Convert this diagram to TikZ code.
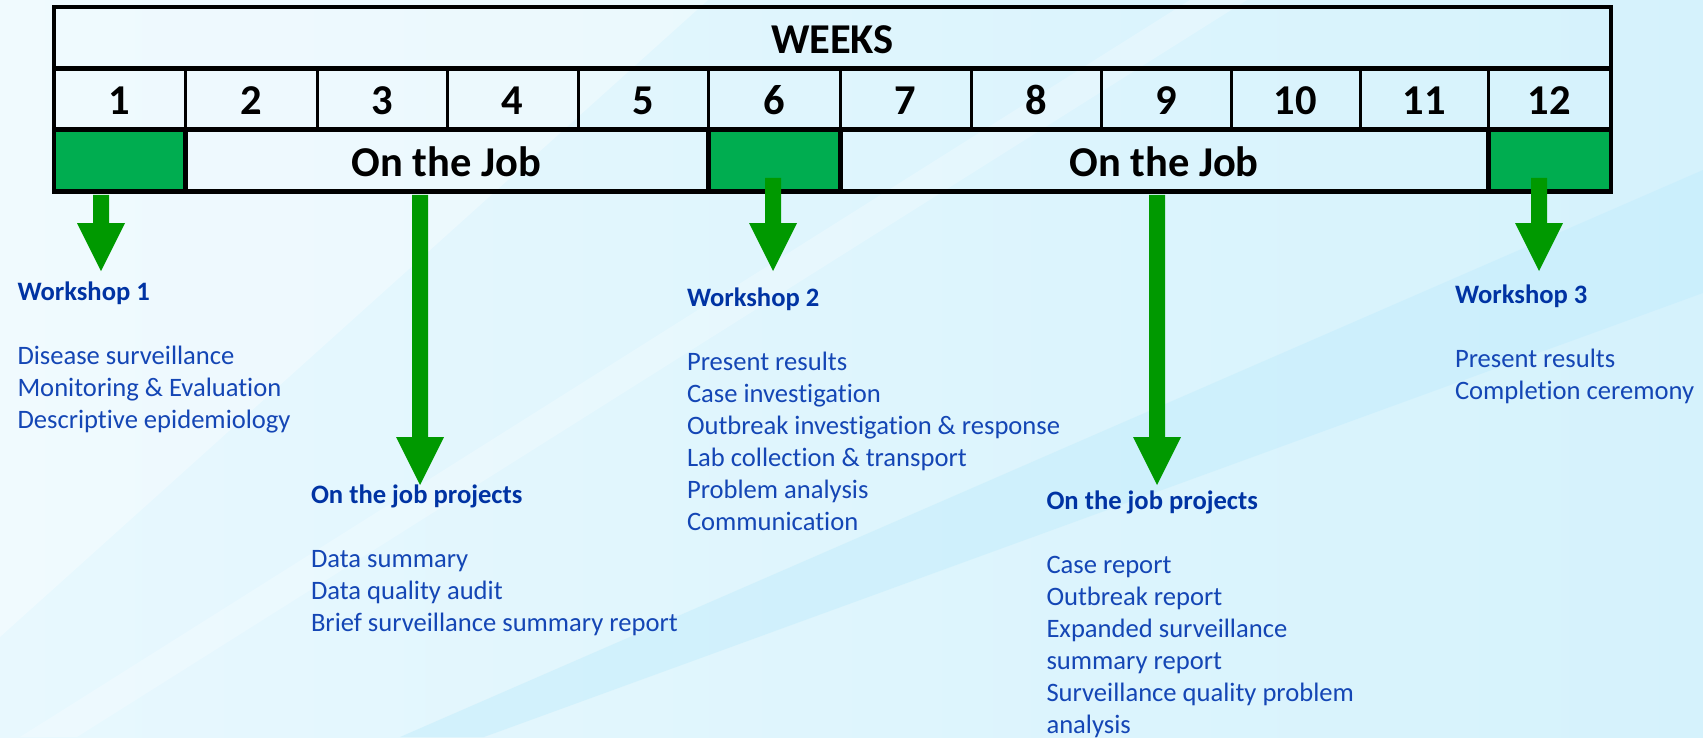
\documentclass[tikz,border=0pt]{standalone}
\usepackage{fontspec}
\setmainfont{Carlito}[Ligatures=NoCommon]
\usetikzlibrary{calc}

\definecolor{bgleft}{RGB}{232,248,254}
\definecolor{bgright}{RGB}{213,242,252}
\definecolor{bandcyan}{RGB}{195,237,252}
\definecolor{cellgreen}{RGB}{0,173,80}
\definecolor{arrowgreen}{RGB}{0,153,0}
\definecolor{headblue}{RGB}{0,51,163}
\definecolor{itemblue}{RGB}{20,70,181}

\tikzset{
  cell/.style={inner sep=0pt, outer sep=0pt, text height=46.5pt, text depth=15pt,
    font=\fontsize{42.5}{50}\selectfont\bfseries},
  greencell/.style={cell, fill=cellgreen},
  titletext/.style={anchor=base west, inner sep=0pt, outer sep=0pt, text=headblue,
    font=\fontsize{26.6}{32}\selectfont\bfseries},
  bodytext/.style={anchor=base west, inner sep=0pt, outer sep=0pt, text=itemblue,
    font=\fontsize{26.6}{32}\selectfont},
  gridthin/.style={line width=3pt},
  gridthick/.style={line width=5pt},
}

% block arrow pointing down from #1 to the tip #2
\newcommand\blockarrow[2]{%
  \fill[arrowgreen] let \p1=(#1), \p2=(#2) in
    (\x1-8pt,\y1) -- (\x1+8pt,\y1) -- (\x1+8pt,\y2+48pt) -- (\x1+24pt,\y2+48pt)
    -- (\x2,\y2) -- (\x1-24pt,\y2+48pt) -- (\x1-8pt,\y2+48pt) -- cycle;}

% heading plus a list of lines below it
\newcommand\infoblock[6]{%
  \node[titletext] (#1) at (#2,#3) {#5};
  \foreach \ln [count=\k] in {#6}
    \node[bodytext] (#1-\k) at (#2,{#4+32*(\k-1)}) {\ln};}

\begin{document}
\begin{tikzpicture}[x=1pt,y=-1pt]
\useasboundingbox (0,0) rectangle (1703,737);

% background
\fill[left color=bgleft, right color=bgright] (0,0) rectangle (1703,737);
\fill[white, opacity=0.35] (0,0) -- (708,0) -- (0,637) -- cycle;
\fill[white, opacity=0.25] (20,737) -- (1190,0) -- (1247,0) -- (77,737) -- cycle;
\fill[bandcyan, opacity=0.5] (400,737) -- (1703,170) -- (1703,293) -- (484,737) -- cycle;

% header row
\node[cell, minimum width=1557pt] (weeks) at (832.5,37.5) {WEEKS};

% week numbers
\foreach \n/\a/\b in {1/54/185, 2/185/317, 3/317/447, 4/447/578, 5/578/708, 6/708/840,
                      7/840/971, 8/971/1101, 9/1101/1231, 10/1231/1360, 11/1360/1488, 12/1488/1611}
  \node[cell, minimum width={\b-\a}] (wk\n) at ({(\a+\b)/2},99) {\n};

% workshop / on-the-job row
\node[greencell, minimum width=131pt] (g1) at (119.5,161) {};
\node[cell, minimum width=523pt] (job1) at (446.5,161) {On the Job};
\node[greencell, minimum width=132pt] (g2) at (774,161) {};
\node[cell, minimum width=648pt] (job2) at (1164,161) {On the Job};
\node[greencell, minimum width=123pt] (g3) at (1549.5,161) {};

% grid lines
\draw[line width=4pt] (weeks.north west) rectangle (g3.south east);
\draw[gridthick] (weeks.south west) -- (weeks.south east);
\draw[gridthick] (wk1.south west) -- (wk12.south east);
\draw[gridthick] (g1.south west) -- (g3.south east);
\foreach \n in {1,...,11} \draw[gridthin] (wk\n.north east) -- (wk\n.south east);
\foreach \c in {g1,g2} \draw[gridthick] (\c.north east) -- (\c.south east);
\foreach \c in {g2,g3} \draw[gridthick] (\c.north west) -- (\c.south west);

% text blocks
\infoblock{ws1}{17.5}{300}{364}{Workshop 1}{Disease surveillance, Monitoring \& Evaluation, Descriptive epidemiology}
\infoblock{ojp1}{311}{503}{567}{On the job projects}{Data summary, Data quality audit, Brief surveillance summary report}
\infoblock{ws2}{687}{306}{370}{Workshop 2}{Present results, Case investigation, Outbreak investigation \& response, Lab collection \& transport, Problem analysis, Communication}
\infoblock{ojp2}{1046.5}{509}{573}{On the job projects}{Case report, Outbreak report, Expanded surveillance, summary report, Surveillance quality problem, analysis}
\infoblock{ws3}{1455}{303}{367}{Workshop 3}{Present results, Completion ceremony}

% arrow tips
\coordinate (tip1) at (101,271);
\coordinate (tip2) at (420,485);
\coordinate (tip3) at (773,271);
\coordinate (tip4) at (1157,485);
\coordinate (tip5) at (1539,271);

% arrows
\blockarrow{$(g1.south -| tip1)+(0,3)$}{tip1}
\blockarrow{$(job1.south -| tip2)+(0,3)$}{tip2}
\blockarrow{$(g2.south -| tip3)+(0,-14)$}{tip3}
\blockarrow{$(job2.south -| tip4)+(0,3)$}{tip4}
\blockarrow{$(g3.south -| tip5)+(0,-14)$}{tip5}
\end{tikzpicture}
\end{document}
